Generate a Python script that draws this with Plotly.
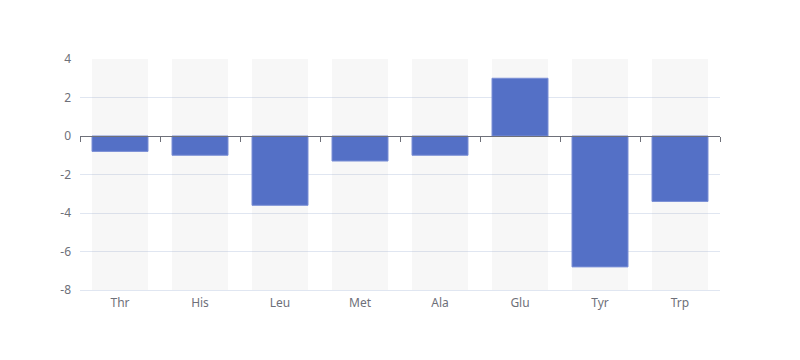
import plotly.graph_objects as go

categories = ["Thr", "His", "Leu", "Met", "Ala", "Glu", "Tyr", "Trp"]
values = [-0.8, -1.0, -3.6, -1.3, -1.0, 3.0, -6.8, -3.4]
y_min, y_max = -8, 4
y_ticks = [-8, -6, -4, -2, 0, 2, 4]
y_tick_labels = [str(v) for v in y_ticks]

axis_color = "#6e7079"
grid_color = "#e0e6f1"
font = dict(family="Noto Sans, DejaVu Sans, sans-serif", size=12, color=axis_color)

fig = go.Figure()
# background bars (full range)
fig.add_trace(go.Bar(
    x=categories, y=[y_max - y_min] * len(categories), base=[y_min] * len(categories),
    marker=dict(color="rgba(180,180,180,0.1)", line=dict(width=0)), width=0.7,
    hoverinfo="skip", showlegend=False,
))
fig.add_trace(go.Bar(
    x=categories, y=values,
    marker=dict(color="#5470c6", line=dict(color="#7a8fd6", width=1)), width=0.7,
    showlegend=False,
))
# zero axis with boundary ticks
n = len(categories)
fig.add_trace(go.Scatter(x=[-0.5, n - 0.5], y=[0, 0], xaxis="x2", mode="lines",
                         line=dict(color="rgba(0,0,0,0)"), hoverinfo="skip", showlegend=False))

fig.update_layout(
    width=800, height=360,
    margin=dict(l=80, r=80, t=59, b=70),
    paper_bgcolor="white", plot_bgcolor="white",
    barmode="overlay",
    font=font,
    xaxis=dict(type="category", categoryorder="array", categoryarray=categories,
               range=[-0.5, n - 0.5], showgrid=False, showline=True, linecolor=grid_color,
               linewidth=1, ticks="", tickfont=font, ticklabelstandoff=2, zeroline=False),
    xaxis2=dict(overlaying="x", anchor="free", position=(0 - y_min) / (y_max - y_min),
                range=[-0.5, n - 0.5], tickvals=[i - 0.5 for i in range(n + 1)],
                showticklabels=False, ticks="outside", ticklen=5, tickcolor=axis_color,
                showline=True, linecolor=axis_color, linewidth=1, showgrid=False,
                zeroline=False, side="bottom"),
    yaxis=dict(range=[y_min, y_max], tickvals=y_ticks, ticktext=y_tick_labels,
               showgrid=True, gridcolor=grid_color,
               gridwidth=1, zeroline=False, showline=False, ticks="", tickfont=font,
               ticklabelstandoff=8),
)
fig.write_html("out.html", post_script="document.body.style.margin='0';",
               config={"displayModeBar": False})
